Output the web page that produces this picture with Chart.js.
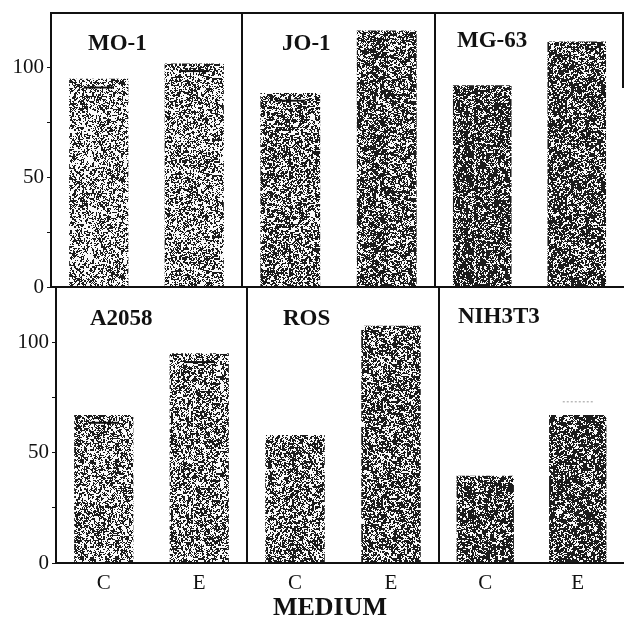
<!DOCTYPE html>
<html>
<head>
<meta charset="utf-8">
<script src="https://cdn.jsdelivr.net/npm/chart.js@4.4.0/dist/chart.umd.min.js"></script>
<style>
body { margin: 0; background: #fff; width: 624px; height: 621px; position: relative; overflow: hidden; }
canvas { position: absolute; }
#xtitle { position: absolute; left: 230px; width: 200px; top: 594px; text-align: center;
  font: bold 26px "Liberation Serif", serif; color: #111; line-height: 26px; }
</style>
</head>
<body>
<canvas id="p0"></canvas>
<canvas id="p1"></canvas>
<canvas id="p2"></canvas>
<canvas id="p3"></canvas>
<canvas id="p4"></canvas>
<canvas id="p5"></canvas>
<div id="xtitle">MEDIUM</div>
<script>
// ==================== DATA ====================
const categories = ['C', 'E'];
const cellLines = ['MO-1', 'JO-1', 'MG-63', 'A2058', 'ROS', 'NIH3T3'];
const controlValues = [95, 88.5, 92, 67, 58, 39.5];
const treatedValues = [102, 117, 112, 95, 107.5, 67];
// where the little error lines sit (null = none visible)
const controlErr = [91, 85, null, 63.5, null, null];
const treatedErr = [98.5, null, null, 91, null, 73];
const yTicks = [0, 50, 100];

// ==================== LAYOUT ====================
// canvas box + padding so the plot boxes line up with the scan
// rightEdge: how far down the right border goes (null = whole height, 0 = none)
const panels = [
    { left: 0,   top: 0,   w: 243, h: 300, pad: { top: 13, bottom: 13, left: 0, right: 1 }, yWidth: 51, rightEdge: null },
    { left: 241, top: 0,   w: 195, h: 300, pad: { top: 13, bottom: 13, left: 1, right: 1 }, rightEdge: null },
    { left: 434, top: 0,   w: 190, h: 300, pad: { top: 13, bottom: 13, left: 1, right: 0 }, rightEdge: 75 },
    { left: 0,   top: 286, w: 248, h: 317, pad: { top: 1, bottom: 0, left: 0, right: 1 }, yWidth: 56, xAxis: true, rightEdge: null },
    { left: 246, top: 286, w: 194, h: 317, pad: { top: 1, bottom: 0, left: 1, right: 1 }, xAxis: true, rightEdge: null },
    { left: 438, top: 286, w: 186, h: 317, pad: { top: 1, bottom: 0, left: 1, right: 0 }, xAxis: true, rightEdge: 0 }
];
const titlePos = [[37, 37], [40, 37], [22, 34], [34, 38], [36, 38], [19, 36]];
const grain = [[0.42, 0.47], [0.55, 0.6], [0.68, 0.66], [0.48, 0.5], [0.55, 0.6], [0.68, 0.66]];

const serif = '"Liberation Serif", "Times New Roman", serif';

// speckled grey like the photocopied bars (deterministic hash, just a texture)
function hash(x, y, s) {
    let n = Math.imul(x, 374761393) + Math.imul(y, 668265263) + Math.imul(s, 1442695041);
    n = Math.imul(n ^ (n >>> 13), 1274126177);
    n = n ^ (n >>> 16);
    return (n >>> 0) / 4294967296;
}
function stipple(density, seed) {
    const N = 97;
    const c = document.createElement('canvas');
    c.width = c.height = N;
    const g = c.getContext('2d');
    const img = g.createImageData(N, N);
    // mean of two uniforms -> triangular, pick threshold so share of dark = density
    const t = density < 0.5 ? Math.sqrt(density / 2) : 1 - Math.sqrt((1 - density) / 2);
    for (let y = 0; y < N; y++) {
        for (let x = 0; x < N; x++) {
            const r = (hash(x >> 1, y >> 1, seed + 50) + hash(x, y, seed)) / 2;
            const v = r < t ? 28 : 250;
            const k = (y * N + x) * 4;
            img.data[k] = img.data[k + 1] = img.data[k + 2] = v;
            img.data[k + 3] = 255;
        }
    }
    g.putImageData(img, 0, 0);
    return g.createPattern(c, 'repeat');
}

// ==================== PLUGIN ====================
const panelDecor = {
    id: 'panelDecor',
    afterDatasetsDraw(chart, args, opts) {
        const ctx = chart.ctx;
        const meta = chart.getDatasetMeta(0);
        const y = chart.scales.y;
        const vals = chart.data.datasets[0].data;
        opts.errs.forEach((e, j) => {
            if (e === null) return;
            const bar = meta.data[j];
            const py = y.getPixelForValue(e);
            ctx.save();
            if (e > vals[j]) {
                ctx.strokeStyle = '#999';
                ctx.setLineDash([2, 2]);
                ctx.lineWidth = 1;
            } else {
                ctx.strokeStyle = '#111';
                ctx.lineWidth = 2;
            }
            ctx.beginPath();
            ctx.moveTo(bar.x - 15, py);
            ctx.lineTo(bar.x + 15, py);
            ctx.stroke();
            ctx.restore();
        });
    },
    afterDraw(chart, args, opts) {
        const ctx = chart.ctx;
        const a = chart.chartArea;
        ctx.save();
        ctx.strokeStyle = '#111';
        ctx.lineWidth = 2;
        ctx.beginPath();
        ctx.moveTo(a.right, a.top);
        ctx.lineTo(a.left, a.top);
        ctx.lineTo(a.left, a.bottom);
        ctx.lineTo(a.right, a.bottom);
        if (opts.rightEdge === null) {
            ctx.lineTo(a.right, a.top);
        } else if (opts.rightEdge > 0) {
            ctx.moveTo(a.right - 1, a.top);
            ctx.lineTo(a.right - 1, a.top + opts.rightEdge);
        }
        ctx.stroke();
        ctx.fillStyle = '#111';
        ctx.font = 'bold 23px ' + serif;
        ctx.textBaseline = 'alphabetic';
        ctx.fillText(opts.title, a.left + opts.dx, a.top + opts.dy);
        ctx.restore();
    }
};

// ==================== CHARTS ====================
function makePanel(i) {
    const p = panels[i];
    const cv = document.getElementById('p' + i);
    cv.width = p.w;
    cv.height = p.h;
    cv.style.left = p.left + 'px';
    cv.style.top = p.top + 'px';

    const yAxis = p.yWidth ? {
        display: true,
        min: 0, max: 125,
        ticks: {
            stepSize: 25,
            padding: 3,
            color: '#111',
            font: { family: serif, size: 21 },
            callback: v => yTicks.includes(v) ? String(v) : ''
        },
        grid: {
            drawOnChartArea: false,
            tickLength: 4,
            color: c => c.tick && c.tick.value === 125 ? 'rgba(0,0,0,0)' : '#111'
        },
        border: { display: true, color: '#111', width: 2 },
        afterFit: s => { s.width = p.yWidth; s.paddingTop = 0; s.paddingBottom = 0; }
    } : { display: false, min: 0, max: 125 };

    const xAxis = p.xAxis ? {
        display: true,
        grid: { display: false, drawTicks: false },
        border: { display: false },
        ticks: { padding: 8, color: '#111', font: { family: serif, size: 21 } },
        afterFit: s => { s.height = 40; s.paddingLeft = 0; s.paddingRight = 0; }
    } : { display: false };

    return new Chart(cv, {
        type: 'bar',
        data: {
            labels: categories,
            datasets: [{
                data: [controlValues[i], treatedValues[i]],
                backgroundColor: [stipple(grain[i][0], i * 2 + 1), stipple(grain[i][1], i * 2 + 2)],
                borderWidth: 0,
                barPercentage: 0.62,
                categoryPercentage: 1
            }]
        },
        options: {
            responsive: false,
            animation: false,
            layout: { padding: p.pad },
            plugins: {
                legend: { display: false },
                tooltip: { enabled: false },
                panelDecor: {
                    title: cellLines[i],
                    dx: titlePos[i][0],
                    dy: titlePos[i][1],
                    errs: [controlErr[i], treatedErr[i]],
                    rightEdge: p.rightEdge
                }
            },
            scales: { x: xAxis, y: yAxis }
        },
        plugins: [panelDecor]
    });
}

document.addEventListener('DOMContentLoaded', () => {
    for (let i = 0; i < 6; i++) makePanel(i);
});
</script>
</body>
</html>
